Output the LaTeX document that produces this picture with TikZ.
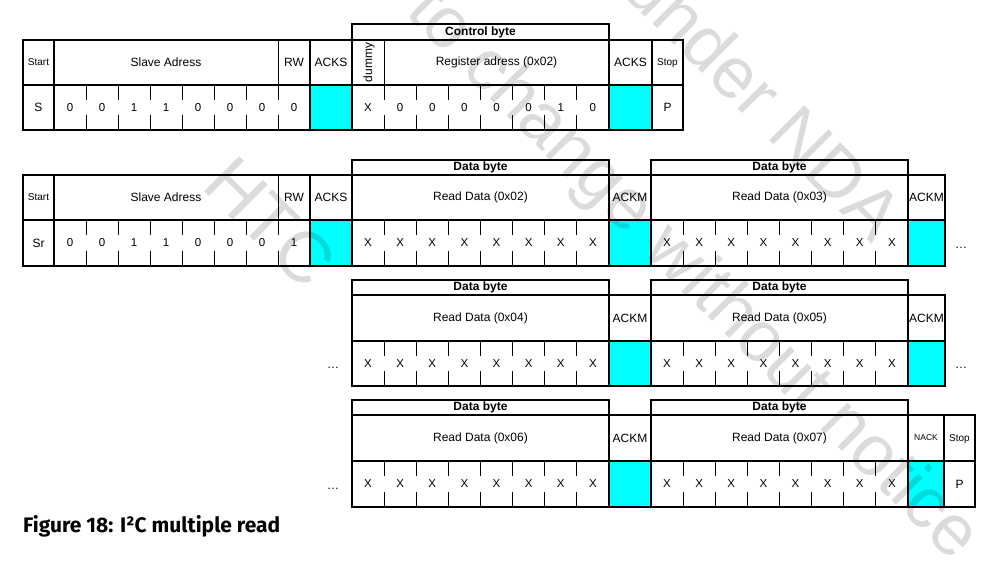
\documentclass[tikz,border=0pt]{standalone}
\usepackage{fontspec}
\setmainfont{Liberation Sans}
\newfontfamily\capfont{Fira Sans}
\definecolor{ackcyan}{RGB}{0,255,255}
\newcommand\bitrow[6]{%
  \pgfmathsetmacro\bitw{(#2-#1)/8}%
  \foreach \k in {1,...,7}{%
    \draw[thn] ({#1+\k*\bitw},#3) -- ++(0,15);
    \draw[thn] ({#1+\k*\bitw},#4) -- ++(0,-15);
  }%
  \foreach \v [count=\k from 0] in {#5}{%
    \node[bitlbl] (#6\k) at ({#1+(\k+0.5)*\bitw},{(#3+#4)/2}) {\v};
  }%
}
\begin{document}
\begin{tikzpicture}[x=1pt,y=-1pt,
  thk/.style={line width=2.4pt},
  thn/.style={line width=0.9pt},
  lbl/.style={inner sep=0pt, font=\fontsize{12}{14}\selectfont},
  bitlbl/.style={inner sep=0pt, font=\fontsize{11.5}{13}\selectfont},
  sml/.style={inner sep=0pt, font=\fontsize{10}{12}\selectfont},
  tinylbl/.style={inner sep=0pt, font=\fontsize{8.5}{10}\selectfont},
  hdr/.style={inner sep=0pt, font=\bfseries\fontsize{12}{14}\selectfont},
  wmark/.style={inner sep=0pt, rotate=-45, text=black, text opacity=0.14, font=\fontsize{72}{76}\selectfont},
  dotslbl/.style={inner sep=0pt, font=\fontsize{12}{14}\selectfont},
]
\useasboundingbox (0,0) rectangle (1007,574);

% ---------- Row 1 ----------
\fill[ackcyan] (310,85) rectangle (352,130);
\fill[ackcyan] (609,85) rectangle (652,130);
\draw[thk] (352,24) rectangle (609,40);
\draw[thk] (23,40) rectangle (683,130);
\draw[thk] (23,85) -- (683,85);
\foreach \x in {54,310,352,609,652} \draw[thk] (\x,40) -- (\x,130);
\draw[thn] (278,40) -- (278,85);
\draw[thn] (384.1,40) -- (384.1,85);
\bitrow{54}{310}{85}{130}{0,0,1,1,0,0,0,0}{ra}
\bitrow{352}{609}{85}{130}{X,0,0,0,0,0,1,0}{rb}
\node[sml] (r1start) at (38.5,62.5) {Start};
\node[lbl] (r1slave) at (166,62) {Slave Adress};
\node[lbl] (r1rw) at (294,62.5) {RW};
\node[lbl] (r1acks) at (331,62.5) {ACKS};
\node[lbl, rotate=90] (r1dummy) at (369,62.5) {dummy};
\node[lbl] (r1reg) at (496.5,62) {Register adress (0x02)};
\node[hdr] (r1ctrl) at (480.5,32) {Control byte};
\node[lbl] (r1acks2) at (630.5,62.5) {ACKS};
\node[sml] (r1stop) at (667.5,63) {Stop};
\node[lbl] (r1s) at (38.5,107.5) {S};
\node[lbl] (r1p) at (667.5,107.5) {P};

% ---------- Row 2 ----------
\fill[ackcyan] (310,220) rectangle (352,266);
\fill[ackcyan] (609,220) rectangle (651,266);
\fill[ackcyan] (908,220) rectangle (945,266);
\draw[thk] (352,160) rectangle (609,175);
\draw[thk] (651,160) rectangle (908,175);
\draw[thk] (23,175) rectangle (945,266);
\draw[thk] (23,220) -- (945,220);
\foreach \x in {54,310,352,609,651,908} \draw[thk] (\x,175) -- (\x,266);
\draw[thn] (278,175) -- (278,220);
\bitrow{54}{310}{220}{266}{0,0,1,1,0,0,0,1}{sa}
\bitrow{352}{609}{220}{266}{X,X,X,X,X,X,X,X}{sb}
\bitrow{651}{908}{220}{266}{X,X,X,X,X,X,X,X}{sc}
\node[sml] (r2start) at (38.5,197.5) {Start};
\node[lbl] (r2slave) at (166,197) {Slave Adress};
\node[lbl] (r2rw) at (294,197.5) {RW};
\node[lbl] (r2acks) at (331,197.5) {ACKS};
\node[hdr] (r2db1) at (480.5,167.5) {Data byte};
\node[lbl] (r2rd1) at (480.5,197) {Read Data (0x02)};
\node[lbl] (r2ackm1) at (630,197.5) {ACKM};
\node[hdr] (r2db2) at (779.5,167.5) {Data byte};
\node[lbl] (r2rd2) at (779.5,197) {Read Data (0x03)};
\node[lbl] (r2ackm2) at (926.5,197.5) {ACKM};
\node[lbl] (r2sr) at (38.5,243) {Sr};
\node[dotslbl] (r2dots) at (961,248) {…};

% ---------- Row 3 ----------
\fill[ackcyan] (609,341) rectangle (651,386);
\fill[ackcyan] (908,341) rectangle (945,386);
\draw[thk] (352,280) rectangle (609,295);
\draw[thk] (651,280) rectangle (908,295);
\draw[thk] (352,295) rectangle (945,386);
\draw[thk] (352,341) -- (945,341);
\foreach \x in {609,651,908} \draw[thk] (\x,295) -- (\x,386);
\bitrow{352}{609}{341}{386}{X,X,X,X,X,X,X,X}{ta}
\bitrow{651}{908}{341}{386}{X,X,X,X,X,X,X,X}{tb}
\node[hdr] (r3db1) at (480.5,287.5) {Data byte};
\node[lbl] (r3rd1) at (480.5,318) {Read Data (0x04)};
\node[lbl] (r3ackm1) at (630,318) {ACKM};
\node[hdr] (r3db2) at (779.5,287.5) {Data byte};
\node[lbl] (r3rd2) at (779.5,318) {Read Data (0x05)};
\node[lbl] (r3ackm2) at (926.5,318) {ACKM};
\node[dotslbl] (r3dotsl) at (333,368) {…};
\node[dotslbl] (r3dotsr) at (961,368) {…};

% ---------- Row 4 ----------
\fill[ackcyan] (609,461) rectangle (651,507);
\fill[ackcyan] (908,461) rectangle (944,507);
\draw[thk] (352,400) rectangle (609,415);
\draw[thk] (651,400) rectangle (908,415);
\draw[thk] (352,415) rectangle (975,507);
\draw[thk] (352,461) -- (975,461);
\foreach \x in {609,651,908,944} \draw[thk] (\x,415) -- (\x,507);
\bitrow{352}{609}{461}{507}{X,X,X,X,X,X,X,X}{ua}
\bitrow{651}{908}{461}{507}{X,X,X,X,X,X,X,X}{ub}
\node[hdr] (r4db1) at (480.5,407.5) {Data byte};
\node[lbl] (r4rd1) at (480.5,438) {Read Data (0x06)};
\node[lbl] (r4ackm1) at (630,438) {ACKM};
\node[hdr] (r4db2) at (779.5,407.5) {Data byte};
\node[lbl] (r4rd2) at (779.5,438) {Read Data (0x07)};
\node[tinylbl] (r4nack) at (926,438) {NACK};
\node[sml] (r4stop) at (959.5,439) {Stop};
\node[lbl] (r4p) at (959.5,484) {P};
\node[dotslbl] (r4dots) at (333,489) {…};

% ---------- Caption ----------
\node[anchor=west, inner sep=0pt, font=\capfont\bfseries\fontsize{21}{24}\selectfont] (cap) at (23,526) {Figure 18: I²C multiple read};

% ---------- Watermark ----------
\node[wmark] (wm1) at (765,100) {under NDA};
\node[wmark] (wm2) at (692,275) {to change without notice};
\node[wmark] (wm3) at (270,222) {HTC};
\end{tikzpicture}
\end{document}
